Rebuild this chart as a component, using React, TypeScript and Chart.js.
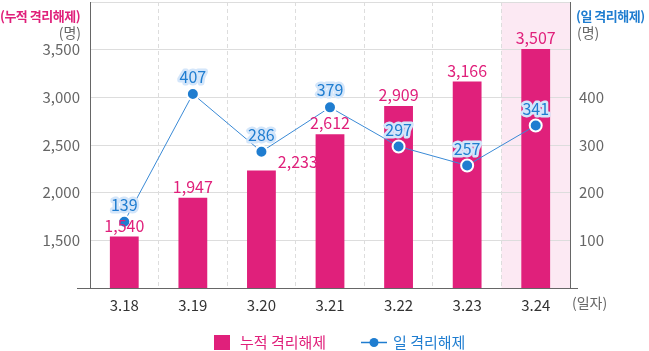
import React, { useEffect, useRef } from 'react';
import { Chart, registerables } from 'chart.js';

Chart.register(...registerables);

const categories = ['3.18', '3.19', '3.20', '3.21', '3.22', '3.23', '3.24'];
const cumulative = [1540, 1947, 2233, 2612, 2909, 3166, 3507];
const daily = [139, 407, 286, 379, 297, 257, 341];
const leftTicks = [1500, 2000, 2500, 3000, 3500];
const rightTicks = [100, 200, 300, 400];
const highlightIndex = 6;

const PINK = '#e0207b';
const BLUE = '#1f7dd0';
const FONT = "'Noto Sans CJK KR', 'Noto Sans', sans-serif";

const fmt = (v: number) => v.toLocaleString('en-US');

const drawPlugin = {
  id: 'custom',
  beforeDraw(chart: any) {
    const { ctx, chartArea, scales } = chart;
    const x = scales.x;
    const w = (chartArea.right - chartArea.left) / categories.length;
    const cx = x.getPixelForValue(highlightIndex);
    ctx.save();
    ctx.fillStyle = '#fce9f3';
    ctx.fillRect(cx - w / 2, chartArea.top, w, chartArea.bottom - chartArea.top);
    ctx.restore();
  },
  afterDraw(chart: any) {
    const { ctx, chartArea } = chart;
    ctx.save();
    // bottom axis line
    ctx.strokeStyle = '#666';
    ctx.lineWidth = 1;
    ctx.beginPath();
    ctx.moveTo(chartArea.left - 13, Math.round(chartArea.bottom) + 0.5);
    ctx.lineTo(chartArea.right + 8, Math.round(chartArea.bottom) + 0.5);
    ctx.stroke();

    // titles
    ctx.textBaseline = 'middle';
    (ctx as any).letterSpacing = '-0.5px';
    ctx.font = `bold 13px ${FONT}`;
    ctx.fillStyle = PINK;
    ctx.textAlign = 'left';
    ctx.fillText('(누적 격리해제)', 0, 16);
    ctx.fillStyle = BLUE;
    ctx.fillText('(일 격리해제)', 576, 16);
    (ctx as any).letterSpacing = '0px';
    ctx.font = `14px ${FONT}`;
    ctx.fillStyle = '#666';
    ctx.textAlign = 'right';
    ctx.fillText('(명)', 81, 33);
    ctx.textAlign = 'left';
    ctx.fillText('(명)', 577, 33);
    ctx.fillText('(일자)', 572, 303);

    // bar labels
    const barMeta = chart.getDatasetMeta(0);
    ctx.font = `16px ${FONT}`;
    ctx.fillStyle = PINK;
    barMeta.data.forEach((el: any, i: number) => {
      const txt = fmt(cumulative[i]);
      if (i === 2) {
        ctx.textAlign = 'left';
        ctx.fillText(txt, el.x + el.width / 2 + 2, el.y - 9);
      } else {
        ctx.textAlign = 'center';
        ctx.fillText(txt, el.x, el.y - 11);
      }
    });

    // line labels
    const lineMeta = chart.getDatasetMeta(1);
    ctx.textAlign = 'center';
    ctx.lineJoin = 'round';
    lineMeta.data.forEach((el: any, i: number) => {
      const txt = String(daily[i]);
      ctx.strokeStyle = 'rgba(212,230,250,1)';
      ctx.lineWidth = 5;
      ctx.strokeText(txt, el.x, el.y - 17);
      ctx.fillStyle = BLUE;
      ctx.fillText(txt, el.x, el.y - 17);
    });

    // legend
    ctx.fillStyle = PINK;
    ctx.fillRect(214, 335, 16, 15);
    ctx.font = `15px ${FONT}`;
    ctx.textAlign = 'left';
    ctx.fillText('누적 격리해제', 240, 342);
    ctx.strokeStyle = BLUE;
    ctx.lineWidth = 1.5;
    ctx.beginPath();
    ctx.moveTo(361, 342.5);
    ctx.lineTo(387, 342.5);
    ctx.stroke();
    ctx.fillStyle = BLUE;
    ctx.beginPath();
    ctx.arc(374, 342.5, 4.5, 0, Math.PI * 2);
    ctx.fill();
    ctx.fillText('일 격리해제', 393, 342);
    ctx.restore();
  },
};

const zeroPad = (s: any) => {
  s.paddingTop = 0;
  s.paddingBottom = 0;
};

export default function App() {
  const ref = useRef<HTMLCanvasElement>(null);
  useEffect(() => {
    if (!ref.current) return;
    const chart = new Chart(ref.current, {
      data: {
        labels: categories,
        datasets: [
          {
            type: 'bar',
            data: cumulative,
            backgroundColor: PINK,
            yAxisID: 'y',
            barPercentage: 0.42,
            categoryPercentage: 1,
            order: 1,
          },
          {
            type: 'line',
            data: daily,
            yAxisID: 'y1',
            borderColor: '#3a8ad6',
            borderWidth: 1,
            pointRadius: 6,
            pointBackgroundColor: BLUE,
            pointBorderColor: '#fff',
            pointBorderWidth: 2,
            tension: 0,
            order: 0,
            clip: false,
          },
        ],
      } as any,
      plugins: [drawPlugin],
      options: {
        responsive: false,
        animation: false,
        layout: { autoPadding: false, padding: { top: 2, left: 0, right: 0, bottom: 0 } },
        plugins: { legend: { display: false }, tooltip: { enabled: false } },
        scales: {
          x: {
            type: 'category',
            offset: true,
            grid: { offset: true, drawTicks: false, color: '#dddddd' },
            border: { display: false, dash: [4, 3] },
            ticks: { color: '#333', font: { family: FONT, size: 15 }, padding: 8 },
            afterFit: (s: any) => {
              s.height = 63;
              s.paddingLeft = 0;
              s.paddingRight = 0;
            },
          },
          y: {
            position: 'left',
            min: 1000,
            max: 4000,
            afterBuildTicks: (s: any) => {
              s.ticks = [1000, ...leftTicks, 4000].map((v) => ({ value: v }));
            },
            grid: {
              drawTicks: false,
              color: (c: any) => (c.tick && c.tick.value === 1000 ? 'rgba(0,0,0,0)' : '#dddddd'),
            },
            border: { color: '#666', width: 1 },
            ticks: {
              color: '#666',
              padding: 10,
              font: { family: FONT, size: 15 },
              callback: (v: any) => (leftTicks.includes(v) ? fmt(v) : ''),
            },
            afterFit: (s: any) => {
              s.width = 90;
              zeroPad(s);
            },
          },
          y1: {
            position: 'right',
            min: 0,
            max: 600,
            afterBuildTicks: (s: any) => {
              s.ticks = [0, ...rightTicks, 600].map((v) => ({ value: v }));
            },
            grid: { drawOnChartArea: false, drawTicks: false },
            border: { color: '#666', width: 1 },
            ticks: {
              color: '#666',
              padding: 9,
              font: { family: FONT, size: 15 },
              callback: (v: any) => (rightTicks.includes(v) ? String(v) : ''),
            },
            afterFit: (s: any) => {
              s.width = 79;
              zeroPad(s);
            },
          },
        },
      } as any,
    });
    return () => chart.destroy();
  }, []);
  return (
    <div style={{ position: 'absolute', left: 0, top: 0, width: 649, height: 351, background: '#fff' }}>
      <canvas ref={ref} width={649} height={351} style={{ display: 'block' }} />
    </div>
  );
}
